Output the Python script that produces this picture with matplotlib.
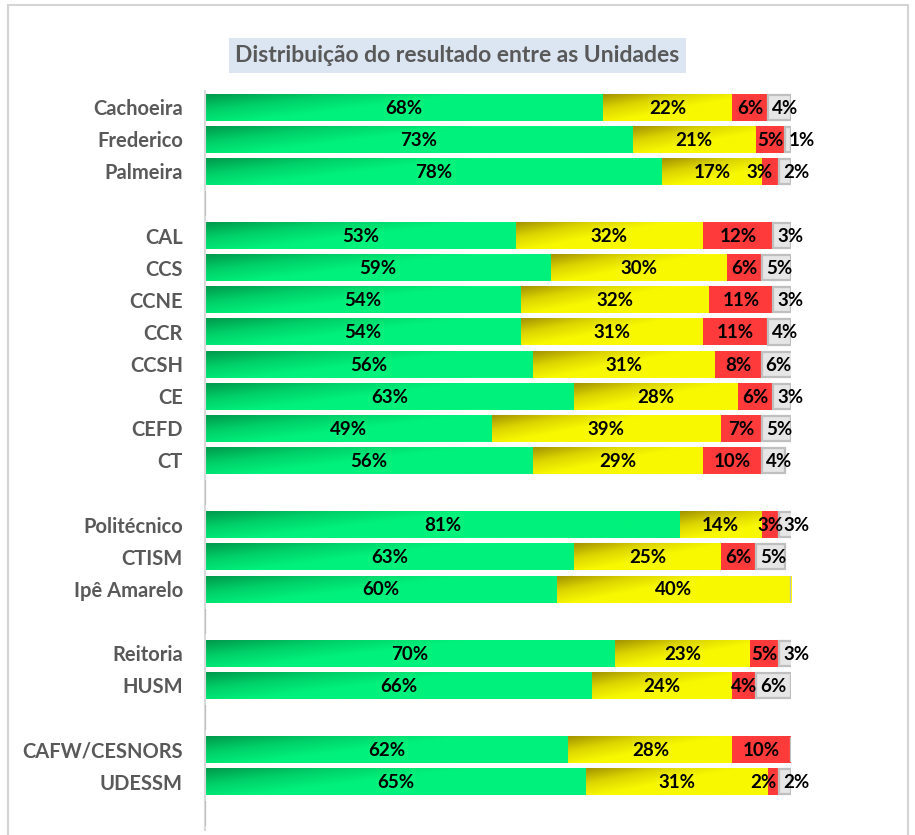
import numpy as np
import matplotlib
matplotlib.use("Agg")
import matplotlib.pyplot as plt
from matplotlib.patches import Rectangle

plt.rcParams['font.family'] = ['Lato', 'DejaVu Sans']

title = "Distribuição do resultado entre as Unidades"
categories = ["Cachoeira", "Frederico", "Palmeira", "",
              "CAL", "CCS", "CCNE", "CCR", "CCSH", "CE", "CEFD", "CT", "",
              "Politécnico", "CTISM", "Ipê Amarelo", "",
              "Reitoria", "HUSM", "",
              "CAFW/CESNORS", "UDESSM", ""]
green = [68, 73, 78, 0, 53, 59, 54, 54, 56, 63, 49, 56, 0, 81, 63, 60, 0, 70, 66, 0, 62, 65, 0]
yellow = [22, 21, 17, 0, 32, 30, 32, 31, 31, 28, 39, 29, 0, 14, 25, 40, 0, 23, 24, 0, 28, 31, 0]
red = [6, 5, 3, 0, 12, 6, 11, 11, 8, 6, 7, 10, 0, 3, 6, 0, 0, 5, 4, 0, 10, 2, 0]
gray = [4, 1, 2, 0, 3, 5, 3, 4, 6, 3, 5, 4, 0, 3, 5, 0, 0, 3, 6, 0, 0, 2, 0]

# label nudges (pixels) for crowded red labels, as in the reference
red_label_nudge_px = {"Palmeira": -11, "UDESSM": -10}

W, H = 915, 835
fig = plt.figure(figsize=(W / 100, H / 100), dpi=100)

# chart border
fig.patches.append(Rectangle((8 / W, -0.05), 900 / W, 1 - 5 / H + 0.05, transform=fig.transFigure,
                             facecolor='none', edgecolor='#d4d4d4', linewidth=1.5, zorder=0))
# title box
fig.patches.append(Rectangle((229 / W, 1 - 73 / H), 457 / W, 35 / H, transform=fig.transFigure,
                             facecolor='#dce6f2', edgecolor='none', zorder=1))
fig.text(457.5 / W, 1 - 56 / H, title, ha='center', va='center', fontsize=16.5,
         fontweight='bold', color='#595959', zorder=2)

ax = fig.add_axes([205 / W, 1 - 830 / H, 586 / W, 739 / H])
ax.set_facecolor('none')

y = np.arange(len(categories))
bh = 0.84
px_per_unit = 586 / 100.0


def gradient_fill(bars, dark, mid, bright, lx, kv):
    dark = np.array(matplotlib.colors.to_rgb(dark))
    mid = np.array(matplotlib.colors.to_rgb(mid))
    bright = np.array(matplotlib.colors.to_rgb(bright))
    for b in bars:
        x0, y0, w, h = b.get_x(), b.get_y(), b.get_width(), b.get_height()
        if w <= 0:
            continue
        wpx = w * px_per_unit
        nc = max(2, int(wpx / 2))
        nr = 20
        u = np.linspace(0, wpx, nc)[None, :]
        v = np.linspace(0, 1, nr)[:, None]
        t = np.clip(u / lx + v * kv, 0, 1)
        t3 = t[..., None]
        col = np.where(t3 < 0.5, dark + (mid - dark) * (t3 / 0.5),
                       mid + (bright - mid) * ((t3 - 0.5) / 0.5))
        im = ax.imshow(col, extent=(x0, x0 + w, y0 + h, y0), aspect='auto',
                       interpolation='bilinear', zorder=2)
        im.set_clip_path(b)


g = np.array(green, float)
yl = np.array(yellow, float)
r = np.array(red, float)
gr = np.array(gray, float)

b1 = ax.barh(y, g, height=bh, color='#00e070', zorder=1)
b2 = ax.barh(y, yl, left=g, height=bh, color='#f0f000', zorder=1)
b3 = ax.barh(y, r, left=g + yl, height=bh, color='#ff3a3a', zorder=3)
b4 = ax.barh(y, gr, left=g + yl + r, height=bh * 0.93, color='#e6e6e6',
             edgecolor='#bfbfbf', linewidth=1.6, zorder=3)

gradient_fill(b1, '#009a4c', '#00d068', '#00f27c', 260, 0.8)
gradient_fill(b2, '#a49400', '#dcd400', '#f8f800', 150, 0.9)

lab_kw = dict(va='center', fontsize=13.5, fontweight='bold', color='black', zorder=5)
for i, cat in enumerate(categories):
    for bars, vals, kind in ((b1, g, 'g'), (b2, yl, 'y'), (b3, r, 'r'), (b4, gr, 'x')):
        v = vals[i]
        if v <= 0:
            continue
        b = bars[i]
        yc = y[i] + 0.03
        if kind == 'x':
            ax.text(b.get_x() + 4 / px_per_unit, yc, f"{int(v)}%", ha='left', **lab_kw)
        else:
            xc = b.get_x() + b.get_width() / 2
            if kind == 'r':
                xc += red_label_nudge_px.get(cat, 0) / px_per_unit
            ax.text(xc, yc, f"{int(v)}%", ha='center', **lab_kw)

ax.set_xlim(0, 100)
ax.set_ylim(len(categories) - 0.5, -0.5)
ax.set_yticks(y)
ax.set_yticklabels(categories, fontsize=14.5, fontweight='bold', color='#595959')
ax.tick_params(axis='y', length=0, pad=16)
ax.set_xticks([])
for s in ['top', 'right', 'bottom']:
    ax.spines[s].set_visible(False)
ax.spines['left'].set_color('#d9d9d9')
ax.spines['left'].set_linewidth(1.5)

fig.savefig('out.png', dpi=100)
